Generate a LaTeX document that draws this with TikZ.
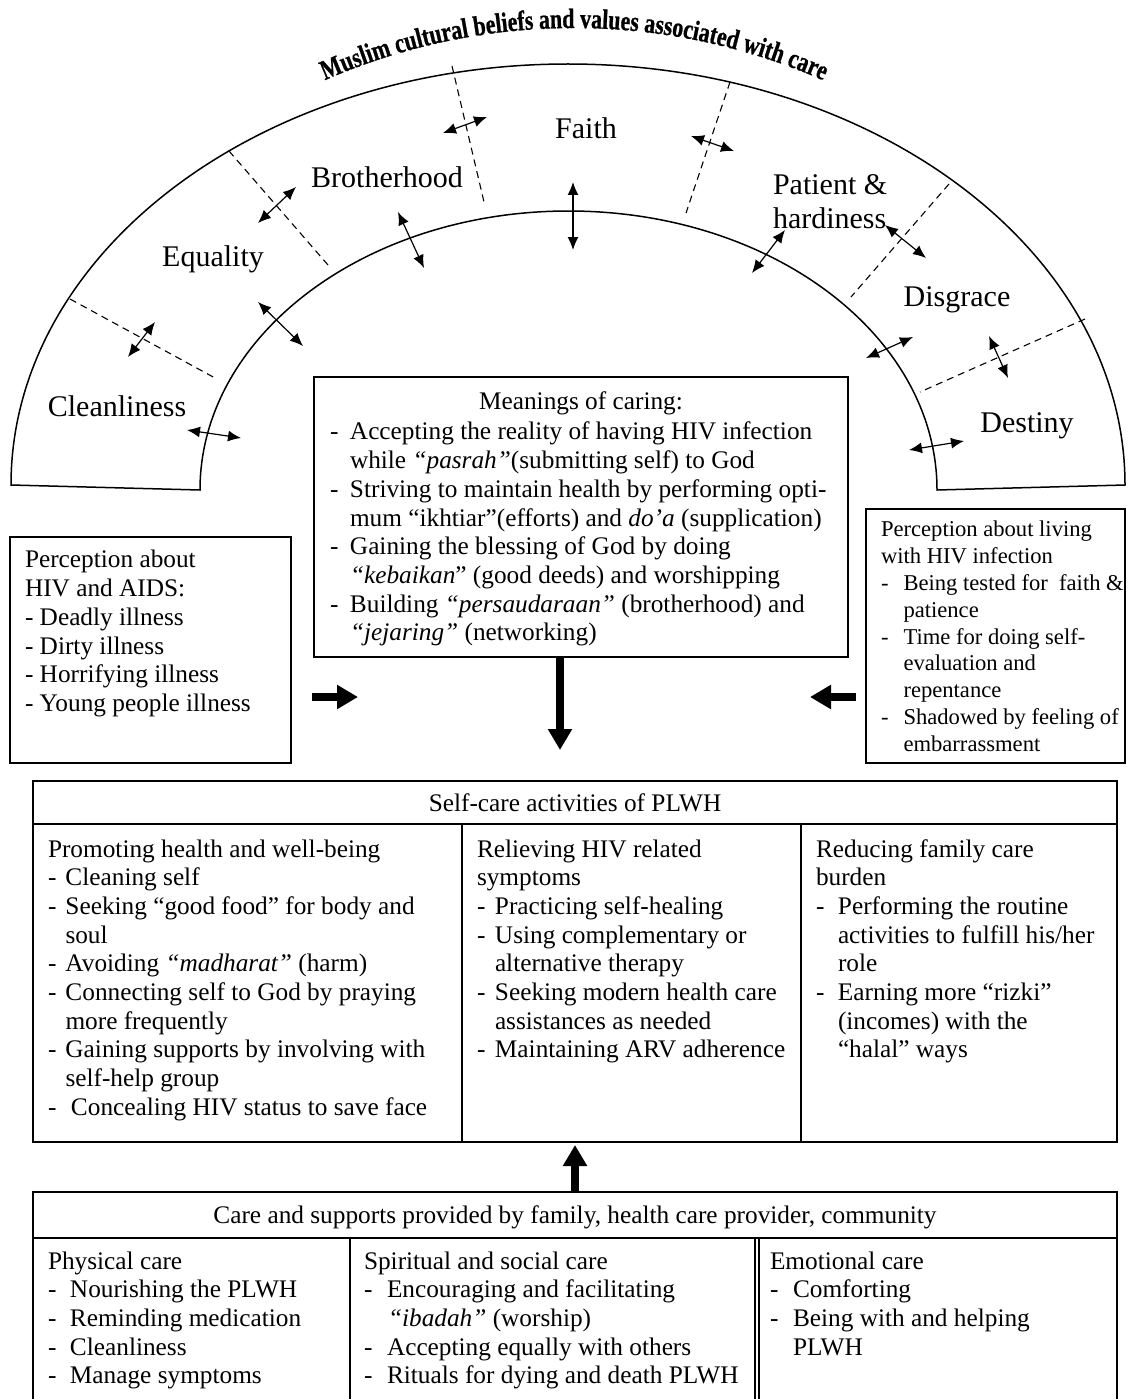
\documentclass[tikz,border=0pt]{standalone}
\usepackage{fontspec}
\setmainfont{Liberation Serif}
\newfontfamily\titlefnt[FakeStretch=0.78,FakeBold=0.8]{Liberation Serif}
\usetikzlibrary{arrows.meta,decorations.text}
\newcommand\dsh[1]{\makebox[#1][l]{-}}
\newcommand\ind[1]{\hspace*{#1}}
\begin{document}
\begin{tikzpicture}[x=1pt,y=-1pt,
  every node/.style={inner sep=0pt,outer sep=0pt},
  lbl/.style={font=\fontsize{30}{35}\selectfont,anchor=base},
  txt/.style={font=\fontsize{25.3}{28.7}\selectfont,align=left,anchor=north west},
  txts/.style={font=\fontsize{22.6}{26.8}\selectfont,align=left,anchor=north west},
  hdr/.style={font=\fontsize{25.3}{28.7}\selectfont,anchor=base},
  boxn/.style={draw,line width=1.8pt,anchor=north west},
  boxline/.style={line width=1.8pt},
  archline/.style={line width=1.5pt},
  divider/.style={dash pattern=on 7pt off 5pt,line width=1.1pt},
  dbl/.style={line width=1.2pt,{Latex[length=13pt,width=11pt]}-{Latex[length=13pt,width=11pt]}},
  fat/.style={line width=7.5pt,-{Triangle[length=21pt,width=23pt]}},
]
\useasboundingbox (0,0) rectangle (1133,1399);

% curved title
\path[decorate,decoration={text along path,text align=center,
  text={|\titlefnt\bfseries\fontsize{28}{30}\selectfont|Muslim cultural beliefs and values associated with care}}]
  (321.8,81.6) arc[start angle=246,end angle=294,radius=620];

% arch
\draw[archline] (11,485) arc[start angle=180,end angle=360,x radius=557,y radius=421]
  -- (937,490) arc[start angle=360,end angle=180,x radius=368.5,y radius=279] -- cycle;

% dividers
\draw[divider] (70,299) -- (215,378);
\draw[divider] (229,151) -- (328,265);
\draw[divider] (452,66) -- (484,202);
\draw[divider] (730,82) -- (686,213);
\draw[divider] (949,184) -- (851,297);
\draw[divider] (1085,319) -- (920,392);

% labels
\node[lbl] (cl) at (117,416) {Cleanliness};
\node[lbl] (eq) at (213,266) {Equality};
\node[lbl] (br) at (387,188) {Brotherhood};
\node[lbl] (fa) at (586,139) {Faith};
\node[font=\fontsize{30}{34}\selectfont,align=left,anchor=north west] (pa) at (773,171) {\strut Patient \&\\hardiness};
\node[lbl] (di) at (957,306) {Disgrace};
\node[lbl] (de) at (1027,432) {Destiny};

% small double arrows
\coordinate (s1) at (128,357); \coordinate (e1) at (155,322);
\coordinate (s2) at (258,223); \coordinate (e2) at (296,187);
\coordinate (s3) at (443,133); \coordinate (e3) at (487,117);
\coordinate (s4) at (691,136); \coordinate (e4) at (734,151);
\coordinate (s5) at (885,225); \coordinate (e5) at (926,258);
\coordinate (s6) at (989,336); \coordinate (e6) at (1008,378);
\coordinate (s7) at (187,430); \coordinate (e7) at (241,438);
\coordinate (s8) at (258,302); \coordinate (e8) at (303,346);
\coordinate (s9) at (398,212); \coordinate (e9) at (424,268);
\coordinate (s10) at (573,182); \coordinate (e10) at (573,250);
\coordinate (s11) at (752,273); \coordinate (e11) at (785,230);
\coordinate (s12) at (866,358); \coordinate (e12) at (913,337);
\coordinate (s13) at (909,450); \coordinate (e13) at (964,441);
\foreach \i in {1,...,13} {\draw[dbl] (s\i) -- (e\i);}

% meanings box
\node[boxn,minimum width=534pt,minimum height=280pt] (mean) at (314,377) {};
\node[hdr] (meanh) at (581,409.5) {Meanings of caring:};
\node[txt] (meant) at (330,419.9) {\strut\dsh{20pt}Accepting the reality of having HIV infection\\
\ind{20pt}while \textit{“pasrah”}(submitting self) to God\\
\dsh{20pt}Striving to maintain health by performing opti-\\
\ind{20pt}mum “ikhtiar”(efforts) and \textit{do’a} (supplication)\\
\dsh{20pt}Gaining the blessing of God by doing\\
\ind{20pt}\textit{“kebaikan}” (good deeds) and worshipping\\
\dsh{20pt}Building \textit{“persaudaraan”} (brotherhood) and\\
\ind{20pt}\textit{“jejaring”} (networking)};

% left box
\node[boxn,minimum width=281pt,minimum height=226pt] (perc) at (10,537) {};
\node[txt] (perct) at (25,547.9) {\strut Perception about\\HIV and AIDS:\\- Deadly illness\\- Dirty illness\\- Horrifying illness\\- Young people illness};

% right box
\node[boxn,minimum width=259pt,minimum height=254pt] (live) at (866,509) {};
\node[txts] (livet) at (881,518.2) {\strut Perception about living\\
with HIV infection\\
\dsh{22.5pt}Being tested for \ faith \&\\
\ind{22.5pt}patience\\
\dsh{22.5pt}Time for doing self-\\
\ind{22.5pt}evaluation and\\
\ind{22.5pt}repentance\\
\dsh{22.5pt}Shadowed by feeling of\\
\ind{22.5pt}embarrassment};

% thick arrows
\coordinate (la) at (312,697); \coordinate (lb) at (358,697);
\coordinate (ra) at (856,697); \coordinate (rb) at (810,697);
\coordinate (dt) at (560,750);
\draw[fat] (la) -- (lb);
\draw[fat] (ra) -- (rb);
\draw[fat] ([xshift=-21pt]mean.south) -- (dt);

% self-care box
\node[boxn,minimum width=1084pt,minimum height=361pt] (self) at (33,781) {};
\draw[boxline] (33,824) -- (1117,824);
\draw[boxline] (462,824) -- (462,1142);
\draw[boxline] (801,824) -- (801,1142);
\node[hdr] (selfh) at (575,811) {Self-care activities of PLWH};
\node[txt] (self1) at (48,836.9) {\strut Promoting health and well-being\\
\dsh{17.5pt}Cleaning self\\
\dsh{17.5pt}Seeking “good food” for body and\\
\ind{17.5pt}soul\\
\dsh{17.5pt}Avoiding \textit{“madharat”} (harm)\\
\dsh{17.5pt}Connecting self to God by praying\\
\ind{17.5pt}more frequently\\
\dsh{17.5pt}Gaining supports by involving with\\
\ind{17.5pt}self-help group\\
\dsh{23pt}Concealing HIV status to save face};
\node[txt] (self2) at (477,836.9) {\strut Relieving HIV related\\
symptoms\\
\dsh{18pt}Practicing self-healing\\
\dsh{18pt}Using complementary or\\
\ind{18pt}alternative therapy\\
\dsh{18pt}Seeking modern health care\\
\ind{18pt}assistances as needed\\
\dsh{18pt}Maintaining ARV adherence};
\node[txt] (self3) at (816,836.9) {\strut Reducing family care\\
burden\\
\dsh{22pt}Performing the routine\\
\ind{22pt}activities to fulfill his/her\\
\ind{22pt}role\\
\dsh{22pt}Earning more “rizki”\\
\ind{22pt}(incomes) with the\\
\ind{22pt}“halal” ways};

% care box
\node[boxn,minimum width=1084pt,minimum height=230pt] (care) at (33,1192) {};
\draw[boxline] (33,1238) -- (1117,1238);
\draw[boxline] (350,1238) -- (350,1410);
\draw[line width=1.3pt] (755,1238) -- (755,1410);
\draw[line width=1.3pt] (759,1238) -- (759,1410);
\node[hdr] (careh) at (575,1223) {Care and supports provided by family, health care provider, community};
\node[txt] (care1) at (48,1248.9) {\strut Physical care\\
\dsh{22pt}Nourishing the PLWH\\
\dsh{22pt}Reminding medication\\
\dsh{22pt}Cleanliness\\
\dsh{22pt}Manage symptoms};
\node[txt] (care2) at (364,1248.9) {\strut Spiritual and social care\\
\dsh{23pt}Encouraging and facilitating\\
\ind{24pt}\textit{“ibadah”} (worship)\\
\dsh{23pt}Accepting equally with others\\
\dsh{23pt}Rituals for dying and death PLWH};
\node[txt] (care3) at (770,1248.9) {\strut Emotional care\\
\dsh{23pt}Comforting\\
\dsh{23pt}Being with and helping\\
\ind{23pt}PLWH};

\draw[fat] (care.north) -- ([yshift=-3pt]self.south);
\end{tikzpicture}
\end{document}
